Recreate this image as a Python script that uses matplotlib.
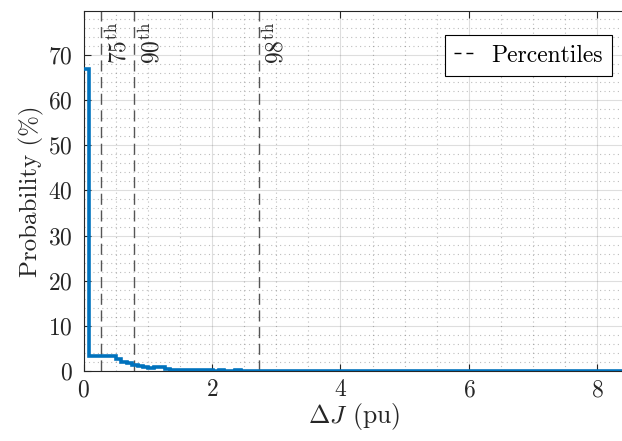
import numpy as np
import matplotlib
matplotlib.use("Agg")
import matplotlib.pyplot as plt
from matplotlib.ticker import MultipleLocator

plt.rcParams['font.family'] = 'serif'
plt.rcParams['font.serif'] = ['cmr10']
plt.rcParams['mathtext.fontset'] = 'cm'
plt.rcParams['axes.unicode_minus'] = False
plt.rcParams['axes.formatter.use_mathtext'] = True

# Histogram data (probability in %), 100 equal-width bins
x_max = 8.43
probability = [
    67.0, 3.3, 3.4, 3.4, 3.4, 3.4, 2.6, 2.1, 1.8, 1.4,
    1.1, 0.9, 0.7, 0.9, 0.8, 0.5, 0.3, 0.2, 0.15, 0.2,
    0.15, 0.2, 0.2, 0.15, 0.1, 0.15, 0.1, 0.1, 0.12, 0.1,
    0.08, 0.1, 0.08, 0.06, 0.08, 0.05, 0.06, 0.05, 0.04, 0.05,
    0.04, 0.04, 0.03, 0.04, 0.03, 0.03, 0.03, 0.02, 0.03, 0.02,
    0.02, 0.03, 0.02, 0.02, 0.02, 0.01, 0.02, 0.01, 0.02, 0.01,
    0.01, 0.01, 0.02, 0.01, 0.01, 0.01, 0.01, 0.01, 0.01, 0.01,
    0.01, 0.01, 0.01, 0.01, 0.01, 0.01, 0.01, 0.01, 0.01, 0.01,
    0.01, 0.01, 0.01, 0.01, 0.01, 0.01, 0.01, 0.01, 0.01, 0.01,
    0.01, 0.01, 0.01, 0.01, 0.01, 0.01, 0.01, 0.01, 0.01, 0.01,
]
percentile_names = ['75', '90', '98']
percentile_values = [0.28, 0.79, 2.735]

edges = np.linspace(0, x_max, len(probability) + 1)

fig = plt.figure(figsize=(6.22, 4.41), dpi=100)
ax = fig.add_axes([83.5 / 622, (441 - 371) / 441, (625 - 83.5) / 622, 360 / 441])

ax.stairs(probability, edges, color='#0072BD', linewidth=2.6, baseline=None, zorder=3)

for name, val in zip(percentile_names, percentile_values):
    ax.axvline(val, color='#555555', linestyle=(0, (8, 4)), linewidth=1.0, zorder=2)
    ax.annotate(name + r'$^{\mathrm{th}}$', xy=(val, 79.75), xycoords='data',
                xytext=(3, -8), textcoords='offset points', rotation=90,
                ha='left', va='top', fontsize=17, color='#262626')

ax.plot([], [], color='black', linestyle=(0, (5, 3.6)), linewidth=1.0, label='Percentiles')
leg = ax.legend(loc='upper right', bbox_to_anchor=(612 / 622, (441 - 35) / 441),
                bbox_transform=fig.transFigure, fancybox=False, framealpha=1,
                edgecolor='black', fontsize=17, handlelength=0.85, handletextpad=0.7,
                borderpad=0.4, borderaxespad=0)
leg.get_frame().set_linewidth(0.8)

ax.set_xlim(0, x_max)
ax.set_ylim(0, 79.75)
ax.xaxis.set_major_locator(MultipleLocator(2))
ax.xaxis.set_minor_locator(MultipleLocator(0.5))
ax.yaxis.set_major_locator(MultipleLocator(10))
ax.yaxis.set_minor_locator(MultipleLocator(2))

ax.grid(True, which='major', color='#262626', alpha=0.15, linewidth=0.8)
ax.grid(True, which='minor', color='#262626', alpha=0.3, linestyle=(0, (1, 3)), linewidth=0.8)
ax.set_axisbelow(True)

ax.tick_params(which='major', direction='in', length=5, top=True, right=False,
               labelsize=17, colors='#262626', width=0.8)
ax.tick_params(axis='y', pad=8)
ax.tick_params(axis='x', pad=6)
ax.tick_params(which='minor', length=0)
for s in ax.spines.values():
    s.set_color('#262626')
    s.set_linewidth(0.8)

ax.set_xlabel(r'$\Delta J$ (pu)', fontsize=18.5, color='#262626', labelpad=0)
ax.set_ylabel('Probability (%)', fontsize=18, color='#262626', labelpad=3)

fig.savefig('out.png', dpi=100)
